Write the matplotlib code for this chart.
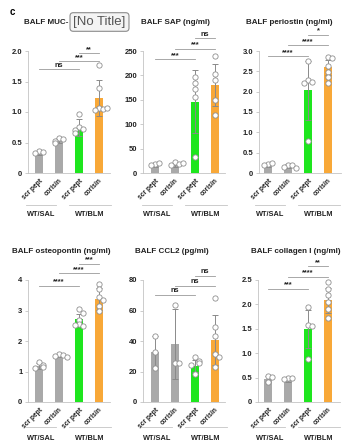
import matplotlib
matplotlib.use("Agg")
import matplotlib.pyplot as plt
from matplotlib.transforms import blended_transform_factory

plt.rcParams["font.family"] = ["Liberation Sans", "DejaVu Sans"]

# ── データ ──
GROUPS = ["scr pept", "corisin", "scr pept", "corisin"]
COHORTS = ["WT/SAL", "WT/BLM"]
BAR_COLORS = ["#a9a9a9", "#a9a9a9", "#1ee61e", "#f8a838"]

muc_mean = [0.33, 0.53, 0.74, 1.23]
muc_sd = [0.03, 0.04, 0.14, 0.29]
muc_pts = [[0.36, 0.34, 0.33], [0.58, 0.55, 0.52, 0.50],
           [0.97, 0.76, 0.72, 0.70, 0.66], [1.77, 1.40, 1.07, 1.05, 1.04, 1.06]]
muc_sig = [(0, 2, "ns", 1.70), (1, 3, "***", 1.83), (2, 3, "**", 1.96)]

sap_mean = [15, 16, 146, 181]
sap_sd = [3, 4, 65, 43]
sap_pts = [[18, 20, 17], [22, 19, 17, 21],
           [197, 185, 172, 156, 33], [240, 203, 190, 149, 119]]
sap_sig = [(0, 2, "***", 233), (1, 3, "***", 255), (2, 3, "ns", 276)]

pos_mean = [0.18, 0.17, 2.03, 2.60]
pos_sd = [0.03, 0.04, 0.73, 0.18]
pos_pts = [[0.22, 0.24, 0.20], [0.20, 0.20, 0.15, 0.13],
           [2.75, 2.28, 2.25, 2.22, 0.78], [2.85, 2.82, 2.62, 2.48, 2.35, 2.22]]
pos_sig = [(0, 2, "****", 2.87), (1, 3, "****", 3.14), (2, 3, "*", 3.40)]

opn_mean = [1.17, 1.50, 2.72, 3.38]
opn_sd = [0.10, 0.04, 0.15, 0.35]
opn_pts = [[1.30, 1.20, 1.15, 1.12], [1.57, 1.53, 1.51, 1.48],
           [3.05, 2.92, 2.70, 2.55, 2.50, 2.53], [3.88, 3.72, 3.43, 3.35, 3.15, 3.00]]
opn_sig = [(0, 2, "****", 3.80), (1, 3, "****", 4.22), (2, 3, "***", 4.54)]

ccl_mean = [32.6, 38.0, 23.5, 40.5]
ccl_sd = [10.5, 23.0, 4.0, 16.5]
ccl_pts = [[43.5, 33, 22.3], [63.8, 25.4, 25.4],
           [29.3, 26.7, 25.4, 24.5, 18.4], [68.2, 49, 43.5, 31.5, 29.7, 23.2]]
ccl_sig = [(0, 2, "ns", 70.4), (1, 3, "ns", 76.3), (2, 3, "ns", 82.8)]

col_mean = [0.47, 0.45, 1.50, 2.08]
col_sd = [0.06, 0.03, 0.39, 0.26]
col_pts = [[0.54, 0.52, 0.40], [0.50, 0.49, 0.48],
           [1.94, 1.58, 1.55, 0.88], [2.45, 2.32, 2.20, 2.04, 1.90, 1.73]]
col_sig = [(0, 2, "***", 2.32), (1, 3, "****", 2.57), (2, 3, "**", 2.78)]

PANELS = [
    ("BALF MUC-", muc_mean, muc_sd, muc_pts, muc_sig, [0, 0.5, 1.0, 1.5, 2.0], ["0", "0.5", "1.0", "1.5", "2.0"]),
    ("BALF SAP (ng/ml)", sap_mean, sap_sd, sap_pts, sap_sig, [0, 50, 100, 150, 200, 250], None),
    ("BALF periostin (ng/ml)", pos_mean, pos_sd, pos_pts, pos_sig,
     [0, 0.5, 1.0, 1.5, 2.0, 2.5, 3.0], ["0", "0.5", "1.0", "1.5", "2.0", "2.5", "3.0"]),
    ("BALF osteopontin (ng/ml)", opn_mean, opn_sd, opn_pts, opn_sig, [0, 1, 2, 3, 4], None),
    ("BALF CCL2 (pg/ml)", ccl_mean, ccl_sd, ccl_pts, ccl_sig, [0, 20, 40, 60, 80], None),
    ("BALF collagen I (ng/ml)", col_mean, col_sd, col_pts, col_sig,
     [0, 0.5, 1.0, 1.5, 2.0, 2.5], ["0", "0.5", "1.0", "1.5", "2.0", "2.5"]),
]

# ── レイアウト（ピクセル単位） ──
W, H = 346, 447
AX_LEFT = [28, 143, 259, 28, 143, 258]
AX_TOP = [51, 51, 51, 280, 280, 280]
AX_W, AX_H = 82, 122
XLIMS = [(-0.55, 3.55), (-0.6, 3.5), (-0.45, 3.65), (-0.55, 3.55), (-0.6, 3.5), (-0.5, 3.6)]
TITLE_X = [24, 141, 246, 12, 135, 251]
TITLE_Y = [22, 22, 22, 252, 252, 252]
GROUP_LINE = [32, 32, 32, 25, 25, 25]
GROUP_TEXT = [41, 41, 41, 36, 36, 36]

AXIS_GRAY = "#c4c4c4"
LINE_GRAY = "#9a9a9a"
TEXT_DARK = "#222222"


def _spread(vals, ymax, r_px=4.5):
    """近い値の点を横に並べるオフセット"""
    offs, placed = [], []
    for v in vals:
        y = v / ymax * AX_H
        k = sum(1 for p in placed if abs(p - y) < r_px)
        if k == 0:
            offs.append(0.0)
        else:
            offs.append(((k + 1) // 2) * 0.2 * (1 if k % 2 else -1))
        placed.append(y)
    return offs


fig = plt.figure(figsize=(W / 100, H / 100), dpi=100)
fig.patch.set_facecolor("white")

for i, (title, mean, sd, pts, sig, yticks, ylabels) in enumerate(PANELS):
    ax = fig.add_axes([AX_LEFT[i] / W, 1 - (AX_TOP[i] + AX_H) / H, AX_W / W, AX_H / H])
    x = list(range(len(GROUPS)))
    ax.bar(x, mean, width=0.42, color=BAR_COLORS, zorder=2)
    ax.errorbar(x, mean, yerr=sd, fmt="none", ecolor="#8a8a8a", elinewidth=0.7,
                capsize=2, capthick=0.7, zorder=3)
    ymax = yticks[-1]
    for xi, vals in zip(x, pts):
        offs = _spread(vals, ymax)
        ax.plot([xi + o for o in offs], vals, "o", ms=3.8, mfc="white", mec="#8f8f8f",
                mew=0.6, zorder=4, clip_on=False)

    # 有意差ブラケット
    for a, b, txt, yv in sig:
        ax.plot([a, b], [yv, yv], color=LINE_GRAY, lw=0.6, clip_on=False, zorder=1)
        ax.text((a + b) / 2, yv + ymax * 0.004, txt, ha="center", va="bottom",
                fontsize=5.3, fontweight="bold", color=TEXT_DARK)

    ax.set_xlim(*XLIMS[i])
    ax.set_ylim(0, ymax)
    ax.set_yticks(yticks)
    if ylabels:
        ax.set_yticklabels(ylabels)
    ax.set_xticks(x)
    ax.set_xticklabels(GROUPS, rotation=45, ha="right", rotation_mode="anchor")
    ax.tick_params(axis="x", length=0, pad=3, labelsize=4.8, colors=TEXT_DARK)
    ax.tick_params(axis="y", length=2.5, width=0.6, color=AXIS_GRAY, pad=1.5,
                   labelsize=5.5, labelcolor=TEXT_DARK)
    for lab in ax.get_xticklabels() + ax.get_yticklabels():
        lab.set_fontweight("bold")
    for s in ["top", "right"]:
        ax.spines[s].set_visible(False)
    for s in ["left", "bottom"]:
        ax.spines[s].set_color(AXIS_GRAY)
        ax.spines[s].set_linewidth(0.6)

    # 群ラベル
    tr = blended_transform_factory(ax.transData, ax.transAxes)
    for (x0, x1), name in zip([(-0.65, 0.85), (1.5, 3.6)], COHORTS):
        ax.plot([x0, x1], [-GROUP_LINE[i] / AX_H] * 2, color=AXIS_GRAY, lw=0.6,
                transform=tr, clip_on=False)
        ax.text((x0 + x1) / 2, -GROUP_TEXT[i] / AX_H, name, transform=tr, ha="center",
                va="center", fontsize=5.3, fontweight="bold", color=TEXT_DARK)

    fig.text(TITLE_X[i] / W, 1 - TITLE_Y[i] / H, title, ha="left", va="center",
             fontsize=5.8, fontweight="bold", color=TEXT_DARK)

fig.text(12 / W, 1 - 12 / H, "c", ha="center", va="center", fontsize=7, fontweight="bold")
fig.text(99.5 / W, 1 - 22 / H, "[No Title]", ha="center", va="center", fontsize=9.5,
         color="#555555",
         bbox=dict(boxstyle="round,pad=0.25", fc="#f4f4f4", ec="#8c8c8c", lw=0.8))

fig.savefig("out.png", dpi=100)
